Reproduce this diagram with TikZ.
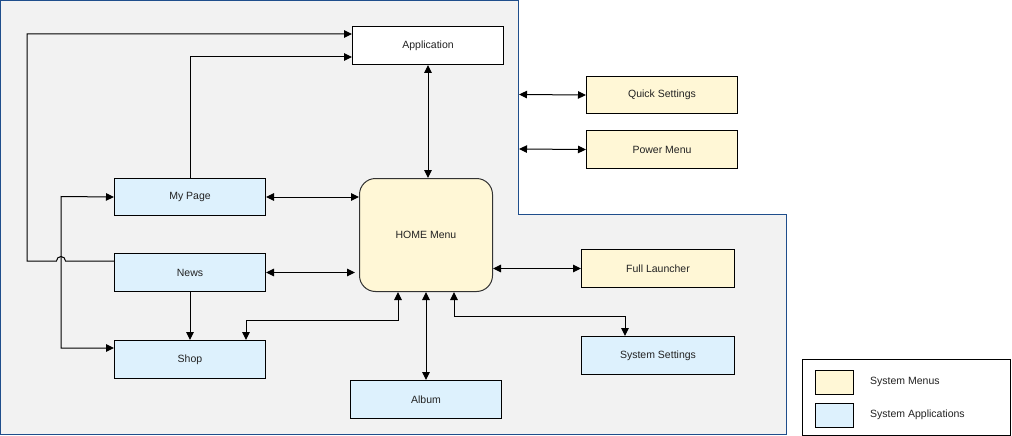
\documentclass[tikz,border=0pt]{standalone}
\usepackage{fontspec}
\setmainfont{Liberation Sans}
\usetikzlibrary{arrows.meta}
\definecolor{menuY}{HTML}{FFF7D6}
\definecolor{appB}{HTML}{DDF1FD}
\definecolor{bgGray}{HTML}{F2F2F2}
\definecolor{bgBorder}{HTML}{1F4E8C}
\definecolor{txt}{HTML}{222222}
\begin{document}
\begin{tikzpicture}[x=1pt,y=-1pt,
  box/.style={draw=black, line width=1pt, anchor=north west, inner sep=0pt,
    minimum width=151pt, minimum height=38pt, text=txt, font=\fontsize{10.5}{12}\selectfont},
  menubox/.style={box, fill=menuY},
  appbox/.style={box, fill=appB},
  lbl/.style={anchor=west, inner sep=0pt, text=txt, font=\fontsize{10.5}{12}\selectfont},
  arr/.style={line width=1pt, -{Triangle[length=8pt,width=7.5pt]}},
  darr/.style={line width=1pt, {Triangle[length=8pt,width=7.5pt]}-{Triangle[length=8pt,width=7.5pt]}}
]
\useasboundingbox (0,0) rectangle (1012,436);
% background region
\filldraw[fill=bgGray, draw=bgBorder, line width=1pt]
  (0.8,0.8) -- (518,0.8) -- (518,214) -- (786,214) -- (786,434.5) -- (0.8,434.5) -- cycle;

% nodes
\node[box, fill=white] (app) at (352,26) {Application};
\node[menubox, minimum height=37pt] (quick) at (586,76) {Quick Settings};
\node[menubox] (power) at (586,130) {Power Menu};
\node[menubox, rounded corners=16pt, minimum width=133pt, minimum height=113pt, draw=black!80] (home) at (359,178) {HOME Menu};
\node[appbox, minimum height=37pt] (mypage) at (114,178) {My Page};
\node[appbox] (news) at (114,253) {News};
\node[appbox] (shop) at (114,340) {Shop};
\node[appbox] (album) at (350,380) {Album};
\node[menubox, minimum width=153pt] (full) at (581,249) {Full Launcher};
\node[appbox, minimum width=153pt] (sysset) at (581,336) {System Settings};

% legend
\node[box, fill=white, minimum width=208pt, minimum height=76pt] (legend) at (802,359) {};
\node[menubox, minimum width=38pt, minimum height=24pt] (sw1) at (815,370) {};
\node[appbox, minimum width=38pt, minimum height=24pt] (sw2) at (815,403) {};
\node[lbl] (l1) at (870,382) {System Menus};
\node[lbl] (l2) at (870,415) {System Applications};

\coordinate (cq) at (519,94.5);
\coordinate (cp) at (519,149);

% connectors
\draw[arr] (news.west |- 0,261) -- (65.5,261) arc[start angle=0, end angle=180, radius=4.5pt]
  -- (27,261) -- (27,34) -- (app.west |- 0,34);
\draw[arr] (mypage.north) -- (mypage.north |- 0,57) -- (app.west |- 0,57);
\draw[darr] (app.south) -- (app.south |- home.north);
\draw[darr] (mypage.east) -- (home.west |- mypage.east);
\draw[darr] (news.east) -- ([xshift=-4pt]home.west |- news.east);
\draw[darr] (mypage.west) -- (61,196.5) -- (61,348) -- (shop.west |- 0,348);
\draw[arr] (news.south) -- (shop.north);
\draw[darr] (home.south -| 398,0) -- (398,320) -- (246,320) -- (shop.north -| 246,0);
\draw[darr] (home.south) -- (album.north);
\draw[darr] (home.south -| 454,0) -- (454,316) -- (625,316) -- (sysset.north -| 625,0);
\draw[darr] (home.east |- full.west) -- (full.west);
\draw[darr] (cq) -- (quick.west);
\draw[darr] (cp) -- (power.west);
\end{tikzpicture}
\end{document}
